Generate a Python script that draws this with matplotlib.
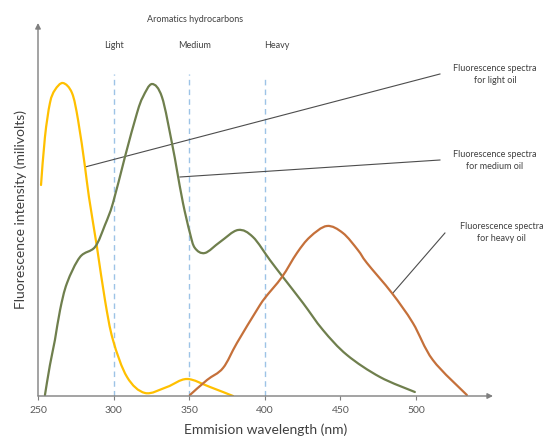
import matplotlib.pyplot as plt
from matplotlib.path import Path
from matplotlib.patches import PathPatch

plt.rcParams['font.family'] = ['Lato', 'DejaVu Sans']

# Light oil spectrum (wavelength nm, intensity)
light_x = [252.0, 254.6, 257.9, 261.2, 266.5, 272.5, 276.5, 281.1, 283.7, 289.0,
           294.3, 299.6, 308.9, 320.8, 335.3, 348.5, 363.8, 379.0]
light_y = [211, 259, 293, 306, 313, 303, 276, 229, 199, 149, 96, 56, 19, 3, 9, 17, 9, 0]

# Medium oil spectrum
medium_x = [254.6, 257.9, 261.2, 264.6, 269.2, 277.8, 287.7, 294.3, 299.6, 307.5,
            315.5, 319.4, 325.4, 332.0, 338.6, 341.9, 345.9, 350.5, 353.8, 360.4,
            370.4, 382.3, 392.2, 403.4, 412.0, 425.3, 438.5, 454.4, 476.2, 499.3]
medium_y = [1, 31, 56, 86, 113, 139, 149, 171, 193, 239, 283, 299, 312, 299, 253,
            226, 193, 163, 148, 143, 154, 166, 159, 136, 119, 93, 66, 41, 19, 4]

# Heavy oil spectrum
heavy_x = [350.5, 361.8, 372.4, 381.6, 394.8, 400.1, 411.4, 421.3, 429.9, 441.1,
           451.7, 461.6, 467.6, 484.1, 498.0, 511.2, 533.7]
heavy_y = [1, 16, 28, 53, 86, 98, 119, 143, 159, 170, 163, 146, 133, 103, 73, 36, 1]

marker_x = [300, 350, 400]
marker_top = [322, 322, 317]
marker_names = ['Light', 'Medium', 'Heavy']
marker_label_x = [300.3, 353.8, 408.1]

xticks = [250, 300, 350, 400, 450, 500]


def smooth_path(xs, ys):
    # Catmull-Rom style bezier through the read points (like a smoothed line)
    pts = list(zip(xs, ys))
    verts = [pts[0]]
    codes = [Path.MOVETO]
    n = len(pts)
    for i in range(n - 1):
        p0 = pts[i - 1] if i > 0 else pts[i]
        p1 = pts[i]
        p2 = pts[i + 1]
        p3 = pts[i + 2] if i + 2 < n else pts[i + 1]
        c1 = (p1[0] + (p2[0] - p0[0]) / 6, p1[1] + (p2[1] - p0[1]) / 6)
        c2 = (p2[0] - (p3[0] - p1[0]) / 6, p2[1] - (p3[1] - p1[1]) / 6)
        verts += [c1, c2, p2]
        codes += [Path.CURVE4] * 3
    return Path(verts, codes)


fig = plt.figure(figsize=(5.49, 4.42), dpi=100)
ax = fig.add_axes([38 / 549, 46 / 442, 455 / 549, 373 / 442])

# Dashed reference lines
for xv, top in zip(marker_x, marker_top):
    ax.plot([xv, xv], [0, top], color='#9dc3e6', lw=1.0, ls=(0, (4, 3)), zorder=1)

for xs, ys, col in [(light_x, light_y, '#ffc000'),
                    (medium_x, medium_y, '#6f7f4d'),
                    (heavy_x, heavy_y, '#c5703a')]:
    ax.add_patch(PathPatch(smooth_path(xs, ys), fill=False, edgecolor=col,
                           lw=1.6, joinstyle='round', capstyle='round', zorder=3))

ax.set_xlim(250, 551)
ax.set_ylim(0, 373)
for s in ax.spines.values():
    s.set_visible(False)

# Axes with arrows
ax.annotate('', xy=(1, 0), xytext=(0, 0), xycoords='axes fraction',
            arrowprops=dict(arrowstyle='-|>', color='#7f7f7f', lw=1.0,
                            mutation_scale=8, shrinkA=0, shrinkB=0))
ax.annotate('', xy=(0, 1), xytext=(0, 0), xycoords='axes fraction',
            arrowprops=dict(arrowstyle='-|>', color='#7f7f7f', lw=1.0,
                            mutation_scale=8, shrinkA=0, shrinkB=0))

ax.set_xticks(xticks)
ax.set_xticklabels([str(t) for t in xticks])
ax.tick_params(axis='x', length=3, width=0.8, color='#7f7f7f', labelsize=7.5,
               labelcolor='#595959', pad=4)
ax.set_yticks([])

ax.set_xlabel('Emmision wavelength (nm)', fontsize=10, color='#404040', labelpad=6)
ax.set_ylabel('Fluorescence intensity (milivolts)', fontsize=10, color='#404040', labelpad=8)

# Top labels
ax.text(353.8, 376, 'Aromatics hydrocarbons', fontsize=6.5, color='#404040',
        ha='center', va='center', clip_on=False)
for name, lx in zip(marker_names, marker_label_x):
    ax.text(lx, 351, name, fontsize=6.5, color='#404040', ha='center', va='center')

# Leader lines and annotations
leaders = [
    ((281.1, 229), (515.9, 322), (552.2, 321.5), 'Fluorescence spectra\nfor light oil'),
    ((343.9, 219), (515.9, 236), (552.2, 235.5), 'Fluorescence spectra\nfor medium oil'),
    ((484.8, 103), (519.2, 163), (556.9, 163.5), 'Fluorescence spectra\nfor heavy oil'),
]
for start, end, tpos, label in leaders:
    ax.plot([start[0], end[0]], [start[1], end[1]], color='#4d4d4d', lw=0.8,
            zorder=2, clip_on=False)
    ax.text(tpos[0], tpos[1], label, fontsize=6.5, color='#404040', ha='center',
            va='center', linespacing=1.5, clip_on=False)

plt.savefig('out.png', dpi=100)
